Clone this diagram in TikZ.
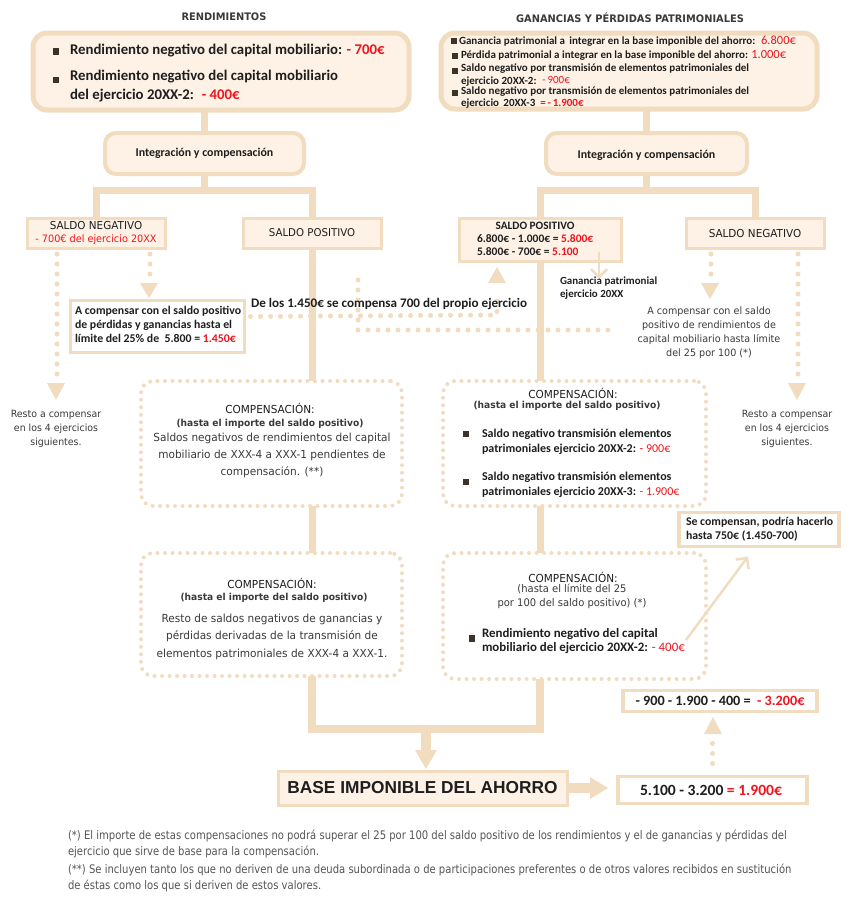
\documentclass[tikz,border=0pt]{standalone}
\usepackage{fontspec}
\setmainfont{Carlito}
\newfontfamily\gfont[FakeStretch=0.95]{DejaVu Sans}
\newfontfamily\fnfont[FakeStretch=0.85]{DejaVu Sans}
\newfontfamily\afont{Liberation Sans}
\usetikzlibrary{arrows.meta,calc}
\definecolor{tanc}{HTML}{F1DCC0}
\definecolor{fillc}{HTML}{FDF2E5}
\definecolor{redc}{HTML}{F0141E}
\definecolor{txtc}{HTML}{1E1E1E}
\definecolor{grayc}{HTML}{3A3A3A}
\definecolor{lgrayc}{HTML}{555555}
\definecolor{bulc}{HTML}{3D3327}
\newcommand\fsz[2]{\fontsize{#1pt}{#2pt}\selectfont}
\newcommand\rd[1]{\textcolor{redc}{#1}}
\begin{document}
\begin{tikzpicture}[x=1pt,y=-1pt,
  every node/.style={inner sep=0pt,outer sep=0pt},
  tanline/.style={draw=tanc,line width=7pt},
  dotline/.style={draw=tanc,line width=5pt,line cap=round,dash pattern=on 0pt off 10pt},
  rbox/.style={draw=tanc,line width=5pt,fill=fillc,rounded corners=14pt},
  ibox/.style={draw=tanc,line width=4pt,fill=fillc,rounded corners=11pt},
  sbox/.style={draw=tanc,line width=3pt,fill=fillc},
  wbox/.style={draw=tanc,line width=3.5pt,fill=white},
  dbox/.style={draw=tanc,line width=4pt,line cap=round,dash pattern=on 0pt off 7.5pt,rounded corners=12pt,fill=white},
  thinarrow/.style={draw=tanc,line width=2.5pt,-{Straight Barb[length=8pt,width=16pt,line width=2.5pt]}},
  bul/.style={fill=bulc,minimum size=6.5pt},
  bigt/.style={font=\fsz{14.8}{16}\bfseries,text=txtc,anchor=west},
  smt/.style={font=\fsz{11}{12}\bfseries,text=txtc,anchor=west},
  midt/.style={font=\fsz{12}{14}\bfseries,text=txtc,anchor=west},
  gt/.style={font=\gfont\fsz{11.1}{17},text=grayc,align=center},
  gh/.style={font=\gfont\fsz{11.05}{13},text=txtc},
  ghb/.style={font=\gfont\bfseries\fsz{9.6}{12},text=grayc},
  fnt/.style={font=\fnfont\fsz{11.8}{13},text=lgrayc,anchor=west}]
\fill[white] (0,0) rectangle (850,900);
\useasboundingbox (0,0) rectangle (850,900);

% titles
\node[font=\gfont\bfseries\fsz{10.35}{12},text=grayc] (t1) at (224,17) {RENDIMIENTOS};
\node[font=\gfont\bfseries\fsz{10.35}{12},text=grayc] (t2) at (630,18) {GANANCIAS Y PÉRDIDAS PATRIMONIALES};

% top boxes
\node[rbox,minimum width=376pt,minimum height=77pt] (tl) at (221,71.5) {};
\node[rbox,minimum width=376pt,minimum height=76pt] (tr) at (629,71) {};
\node[ibox,minimum width=199pt,minimum height=41pt] (il) at (204.5,153.5) {};
\node[ibox,minimum width=201pt,minimum height=41pt] (ir) at (646.5,153.5) {};
\draw[tanline] (tl.south -| il.north) -- (il.north);
\draw[tanline] (tr.south -| ir.north) -- (ir.north);
\node[font=\fsz{11.9}{13}\bfseries,text=txtc] (ilt) at (il.center) {Integración y compensación};
\node[font=\fsz{11.9}{13}\bfseries,text=txtc] (irt) at ($(ir.center)+(0,2)$) {Integración y compensación};

% top-left box text
\node[bul] (b1) at (56,51.5) {};
\node[bigt] (l1) at (70,51) {Rendimiento negativo del capital mobiliario: \rd{- 700€}};
\node[bul] (b2) at (56,80) {};
\node[bigt] (l2) at (70,77) {Rendimiento negativo del capital mobiliario};
\node[bigt] (l3) at (70,96) {del ejercicio 20XX-2: \ \rd{- 400€}};

% top-right box text
\node[bul,minimum size=6pt] (b3) at (454,41) {};
\node[smt] (r1) at (459,41) {Ganancia patrimonial a \,integrar en la base imponible del ahorro: \ {\mdseries\fsz{12.5}{13}\rd{6.800€}}};
\node[bul,minimum size=6pt] (b4) at (455,55.5) {};
\node[smt] (r2) at (461,55) {Pérdida patrimonial a integrar en la base imponible del ahorro: {\mdseries\fsz{12.5}{13}\rd{1.000€}}};
\node[bul,minimum size=6pt] (b5) at (455,71) {};
\node[smt] (r3) at (461,69) {Saldo negativo por transmisión de elementos patrimoniales del};
\node[smt] (r4) at (461,81) {ejercicio 20XX-2: \ \raisebox{1pt}{\mdseries\fsz{11}{12}\rd{-\,900€}}};
\node[bul,minimum size=6pt] (b6) at (455,93) {};
\node[smt] (r5) at (461,92) {Saldo negativo por transmisión de elementos patrimoniales del};
\node[smt] (r6) at (461,104) {ejercicio \,20XX-3 \ \rd{=\,-\,1.900€}};

% saldo boxes
\node[sbox,minimum width=138pt,minimum height=30pt] (sn1) at (96,233) {};
\node[sbox,minimum width=138pt,minimum height=30pt] (sp1) at (312,233) {};
\node[sbox,minimum width=162pt,minimum height=43pt] (sp2) at (540,239.5) {};
\node[sbox,minimum width=138pt,minimum height=30pt] (sn2) at (755,233) {};
\coordinate (jl) at (204.5,190);
\coordinate (jr) at (646.5,190);
\draw[tanline] (il.south) -- (jl);
\draw[tanline,line join=miter] (sn1.north) -- (sn1.north |- jl) -- (sp1.north |- jl) -- (sp1.north);
\draw[tanline] (ir.south) -- (jr);
\draw[tanline,line join=miter] (sp2.north) -- (sp2.north |- jr) -- (sn2.north |- jr) -- (sn2.north);

\node[gh,font=\gfont\fsz{10.95}{12}] (sn1a) at (96,226) {SALDO NEGATIVO};
\node[font=\gfont\fsz{10.2}{12},text=redc] (sn1b) at (96,240) {- 700€ del ejercicio 20XX};
\node[gh,font=\gfont\fsz{10.75}{12}] (sp1a) at (sp1.center) {SALDO POSITIVO};
\node[gh,font=\gfont\fsz{10.95}{12}] (sn2a) at (755,234) {SALDO NEGATIVO};
\node[font=\fsz{11.3}{12}\bfseries,text=txtc] (sp2a) at (535,226) {SALDO POSITIVO};
\node[font=\fsz{11.5}{12}\bfseries,text=txtc,anchor=west] (sp2b) at (477,239) {6.800€ - 1.000€ = \rd{5.800€}};
\node[font=\fsz{11.5}{12}\bfseries,text=txtc,anchor=west] (sp2c) at (477,252) {5.800€ - 700€ = \rd{5.100}};

% compensation boxes
\node[dbox,minimum width=261pt,minimum height=125pt] (c1) at (271.5,443.5) {};
\node[dbox,minimum width=261pt,minimum height=123pt] (c2) at (271.5,614.5) {};
\node[dbox,minimum width=263pt,minimum height=125pt] (c3) at (574.5,443.5) {};
\node[dbox,minimum width=263pt,minimum height=126pt] (c4) at (574.5,616) {};

% trunks
\draw[tanline] (sp1.south) -- (sp1.south |- c1.north);
\draw[tanline] (sp1.south |- c1.south) -- (sp1.south |- c2.north);
\draw[tanline] (sp2.south) -- (sp2.south |- c3.north);
\draw[tanline] (sp2.south |- c3.south) -- (sp2.south |- c4.north);
\coordinate (bl) at (312,729);
\coordinate (br) at (540,729);
\draw[tanline,line width=7.5pt,line join=miter] (sp1.south |- c2.south) -- (bl) -- (br) -- (sp2.south |- c4.south);

% A compensar box
\node[wbox,minimum width=174pt,minimum height=52pt] (ac) at (157.5,326.5) {};
\node[font=\fsz{11.8}{14.2}\bfseries,text=txtc,align=left,anchor=north west] (act) at (75,306) {A compensar con el saldo positivo\\de pérdidas y ganancias hasta el\\límite del 25\% de \ 5.800 = \rd{1.450€}};

% dotted arrows left
\draw[dotline] ($(sn1.south west)+(30,6)$) -- ($(sn1.south west)+(30,127)$);
\fill[tanc] (47,383) -- (65,383) -- (56,400) -- cycle;
\draw[dotline] ($(sn1.south west)+(123,6)$) -- ($(sn1.south west)+(123,26)$);
\fill[tanc] (140,283) -- (158,283) -- (149,298) -- cycle;
\node[gt,font=\gfont\fsz{9.9}{14}] (rest1) at (56,428.5) {Resto a compensar\\en los 4 ejercicios\\siguientes.};

% dotted arrows right
\draw[dotline] ($(sn2.south west)+(25,6)$) -- ($(sn2.south west)+(25,26)$);
\fill[tanc] (701,283) -- (719,283) -- (710,299) -- cycle;
\draw[dotline] ($(sn2.south west)+(112,6)$) -- ($(sn2.south west)+(112,127)$);
\fill[tanc] (788,383) -- (806,383) -- (797,400) -- cycle;
\node[gt,font=\gfont\fsz{9.9}{14}] (rest2) at (787,428.5) {Resto a compensar\\en los 4 ejercicios\\siguientes.};
\node[gt,font=\gfont\fsz{10.1}{14}] (acr) at (709,333) {A compensar con el saldo\\positivo de rendimientos de\\capital mobiliario hasta límite\\del 25 por 100 (*)};

% central dotted lines
\draw[dotline] ($(ac.north east)+(6,16)$) -- (497,315) -- (497,293);
\fill[tanc] (488,283) -- (506,283) -- (497,267) -- cycle;
\draw[dotline] (358,280) -- (358,330) -- (612,330);
\node[font=\fsz{13.1}{14}\bfseries,text=txtc,anchor=west] (delos) at (251,304) {De los 1.450€ se compensa 700 del propio ejercicio};

% thin arrow from saldo positivo
\draw[thinarrow] ($(sp2.south east)+(-22,-9)$) -- ++(0,27);
\node[font=\fsz{10.9}{13.5}\bfseries,text=txtc,align=left,anchor=north west] (gpe) at (560,276.5) {Ganancia patrimonial\\ejercicio 20XX};

% c1 text
\node[gh] (c1a) at (270,408) {COMPENSACIÓN:};
\node[ghb] (c1b) at (270,424) {(hasta el importe del saldo positivo)};
\node[gt,anchor=north] (c1c) at (272,433.5) {Saldos negativos de rendimientos del capital\\mobiliario de XXX-4 a XXX-1 pendientes de\\compensación. (**)};

% c2 text
\node[gh] (c2a) at (272,583) {COMPENSACIÓN:};
\node[ghb] (c2b) at (274,598) {(hasta el importe del saldo positivo)};
\node[gt,font=\gfont\fsz{11.1}{17.5},anchor=north] (c2c) at (272,614) {Resto de saldos negativos de ganancias y\\pérdidas derivadas de la transmisión de\\elementos patrimoniales de XXX-4 a XXX-1.};

% c3 text
\node[gh] (c3a) at (573,393) {COMPENSACIÓN:};
\node[ghb] (c3b) at (567,406) {(hasta el importe del saldo positivo)};
\node[bul] (b7) at (466,434) {};
\node[midt] (c3c) at (482,434) {Saldo negativo transmisión elementos};
\node[midt] (c3d) at (482,449) {patrimoniales ejercicio 20XX-2: \rd{\mdseries - 900€}};
\node[bul] (b8) at (466,482) {};
\node[midt] (c3e) at (482,477) {Saldo negativo transmisión elementos};
\node[midt] (c3f) at (482,492) {patrimoniales ejercicio 20XX-3: \rd{\mdseries - 1.900€}};

% c4 text
\node[gh] (c4a) at (573,577) {COMPENSACIÓN:};
\node[gt,font=\gfont\fsz{10.5}{14},anchor=north] (c4b) at (572,584.5) {(hasta el límite del 25\\por 100 del saldo positivo) (*)};
\node[bul] (b9) at (472,638.5) {};
\node[midt,font=\fsz{12.9}{14}\bfseries] (c4c) at (482,634) {Rendimiento negativo del capital};
\node[midt,font=\fsz{12.9}{14}\bfseries] (c4d) at (482,648) {mobiliario del ejercicio 20XX-2: \rd{\mdseries - 400€}};

% se compensan box
\node[wbox,minimum width=160pt,minimum height=34pt] (se) at (759,529.5) {};
\node[font=\fsz{11.8}{14}\bfseries,text=txtc,align=left,anchor=north west] (set) at (686,517.5) {Se compensan, podría hacerlo\\hasta 750€ (1.450-700)};
\draw[thinarrow] ($(c4.east)+(-20,24)$) -- ($(se.south west)+(69,10)$);

% -900 box
\node[wbox,minimum width=194pt,minimum height=21pt] (m1) at (720,701) {};
\node[font=\fsz{14.2}{15}\bfseries,text=txtc] (m1t) at (720,701) {- 900 - 1.900 - 400 = \ \rd{- 3.200€}};

% base
\node[sbox,minimum width=289pt,minimum height=34pt] (base) at (422.5,788) {};
\node[font=\afont\bfseries\fsz{17.3}{18},text=txtc] (baset) at (base.center) {BASE IMPONIBLE DEL AHORRO};
\node[wbox,minimum width=189pt,minimum height=27pt] (res) at (712.5,790) {};
\node[font=\fsz{15.6}{16}\bfseries,text=txtc] (rest) at (711,790.5) {5.100 - 3.200 \rd{= 1.900€}};

% down arrow to base
\coordinate (bm) at (426,729);
\draw[tanc,line width=10pt] (bm) -- (bm |- 0,752);
\fill[tanc] (415,750) -- (437,750) -- (426,769) -- cycle;
% right arrow to result
\draw[tanc,line width=10pt] (base.east) -- (592,788);
\fill[tanc] (590,777) -- (590,799) -- (608,788) -- cycle;
% dotted up arrow
\draw[dotline] ($(res.north)+(0,-13)$) -- ($(res.north)+(0,-35)$);
\fill[tanc] (704,734) -- (722,734) -- (713,717) -- cycle;

% footnotes
\node[fnt] (f1) at (68,836) {(*) El importe de estas compensaciones no podrá superar el 25 por 100 del saldo positivo de los rendimientos y el de ganancias y pérdidas del};
\node[fnt] (f2) at (68,852) {ejercicio que sirve de base para la compensación.};
\node[fnt] (f3) at (68,870) {(**) Se incluyen tanto los que no deriven de una deuda subordinada o de participaciones preferentes o de otros valores recibidos en sustitución};
\node[fnt] (f4) at (68,886) {de éstas como los que si deriven de estos valores.};
\end{tikzpicture}
\end{document}
